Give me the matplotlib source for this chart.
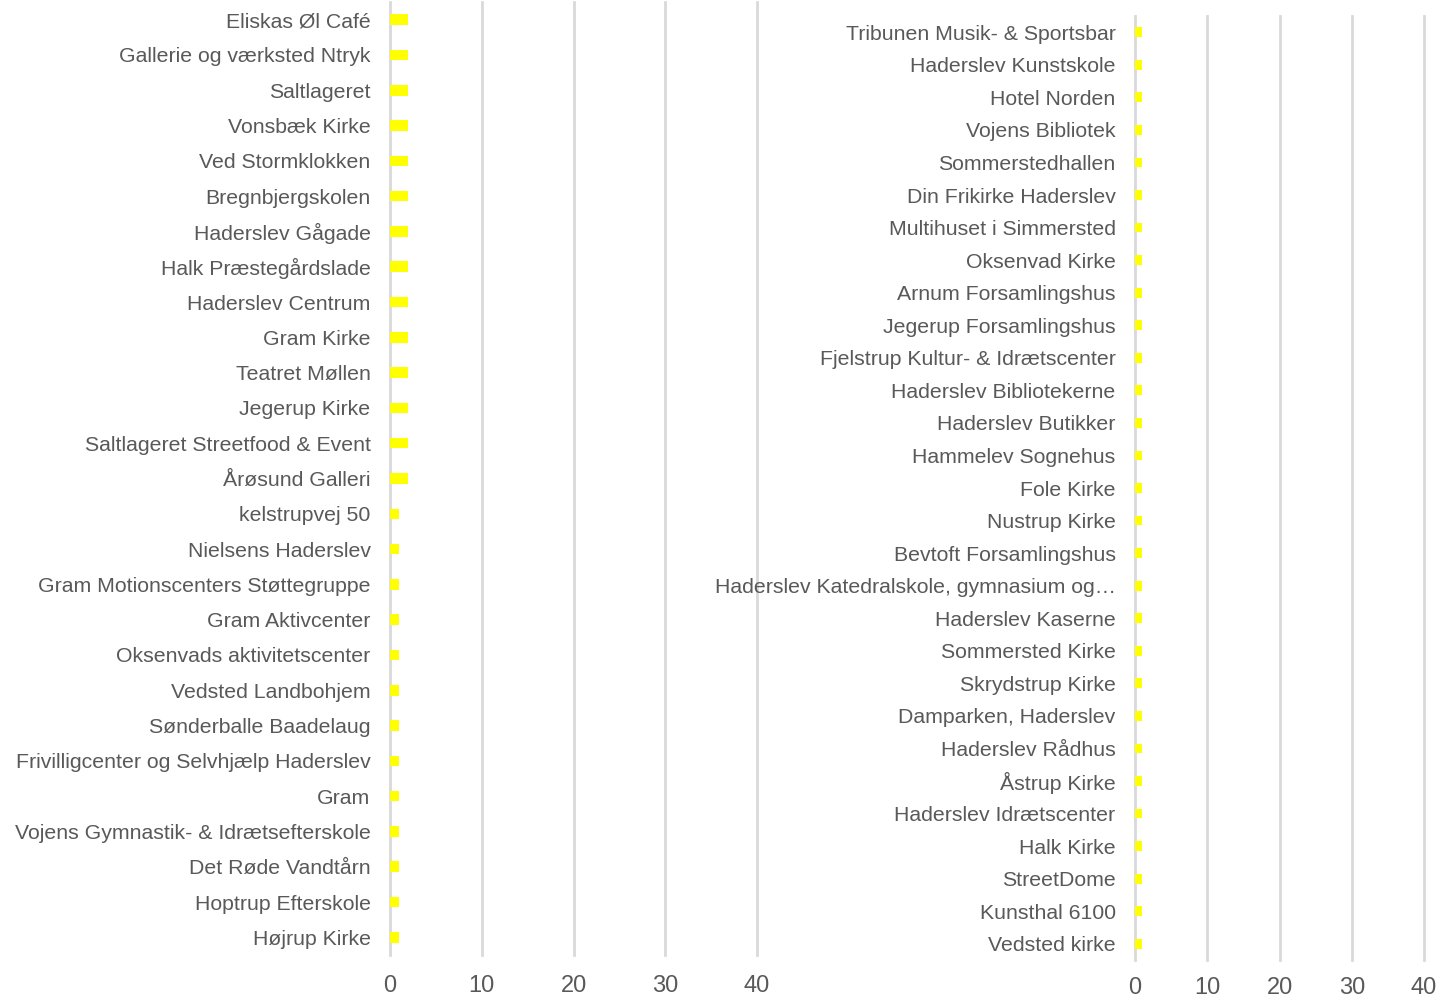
import matplotlib.pyplot as plt

plt.rcParams['font.family'] = ['Liberation Sans', 'DejaVu Sans']

left_labels = ['Eliskas Øl Café', 'Gallerie og værksted Ntryk', 'Saltlageret', 'Vonsbæk Kirke',
               'Ved Stormklokken', 'Bregnbjergskolen', 'Haderslev Gågade', 'Halk Præstegårdslade',
               'Haderslev Centrum', 'Gram Kirke', 'Teatret Møllen', 'Jegerup Kirke',
               'Saltlageret Streetfood & Event', 'Årøsund Galleri', 'kelstrupvej 50',
               'Nielsens Haderslev', 'Gram Motionscenters Støttegruppe', 'Gram Aktivcenter',
               'Oksenvads aktivitetscenter', 'Vedsted Landbohjem', 'Sønderballe Baadelaug',
               'Frivilligcenter og Selvhjælp Haderslev', 'Gram', 'Vojens Gymnastik- & Idrætsefterskole',
               'Det Røde Vandtårn', 'Hoptrup Efterskole', 'Højrup Kirke']
left_values = [2] * 14 + [1] * 13

right_labels = ['Tribunen Musik- & Sportsbar', 'Haderslev Kunstskole', 'Hotel Norden',
                'Vojens Bibliotek', 'Sommerstedhallen', 'Din Frikirke Haderslev',
                'Multihuset i Simmersted', 'Oksenvad Kirke', 'Arnum Forsamlingshus',
                'Jegerup Forsamlingshus', 'Fjelstrup Kultur- & Idrætscenter',
                'Haderslev Bibliotekerne', 'Haderslev Butikker', 'Hammelev Sognehus',
                'Fole Kirke', 'Nustrup Kirke', 'Bevtoft Forsamlingshus',
                'Haderslev Katedralskole, gymnasium og…', 'Haderslev Kaserne',
                'Sommersted Kirke', 'Skrydstrup Kirke', 'Damparken, Haderslev',
                'Haderslev Rådhus', 'Åstrup Kirke', 'Haderslev Idrætscenter', 'Halk Kirke',
                'StreetDome', 'Kunsthal 6100', 'Vedsted kirke']
right_values = [1] * 29

x_ticks = [0, 10, 20, 30, 40]

W, H = 1440, 998
fig = plt.figure(figsize=(W / 100, H / 100), dpi=100)

text_col = '#595959'
grid_col = '#D9D9D9'
bar_col = '#FFFF00'


def draw_panel(ax, labels, values, xpad):
    pos = list(range(len(labels)))
    ax.barh(pos, values, height=0.3, color=bar_col, zorder=3)
    ax.set_xlim(0, 40)
    ax.set_ylim(len(labels) - 0.5, -0.5)
    ax.set_yticks(pos)
    ax.set_yticklabels(labels, fontsize=15.3, color=text_col)
    ax.set_xticks(x_ticks)
    ax.set_xticklabels([str(t) for t in x_ticks], fontsize=17, color=text_col)
    ax.tick_params(axis='both', length=0)
    ax.tick_params(axis='y', pad=14)
    ax.tick_params(axis='x', pad=xpad)
    ax.grid(axis='x', color=grid_col, linewidth=2, zorder=0)
    for gl in ax.get_xgridlines():
        gl.set_clip_on(False)
    for s in ax.spines.values():
        s.set_visible(False)


ax1 = fig.add_axes([390 / W, (H - 955) / H, 367 / W, 953 / H])
draw_panel(ax1, left_labels, left_values, 14.5)

ax2 = fig.add_axes([1135 / W, (H - 960) / H, 289 / W, 944 / H])
draw_panel(ax2, right_labels, right_values, 12)

fig.savefig('out.png', dpi=100)
